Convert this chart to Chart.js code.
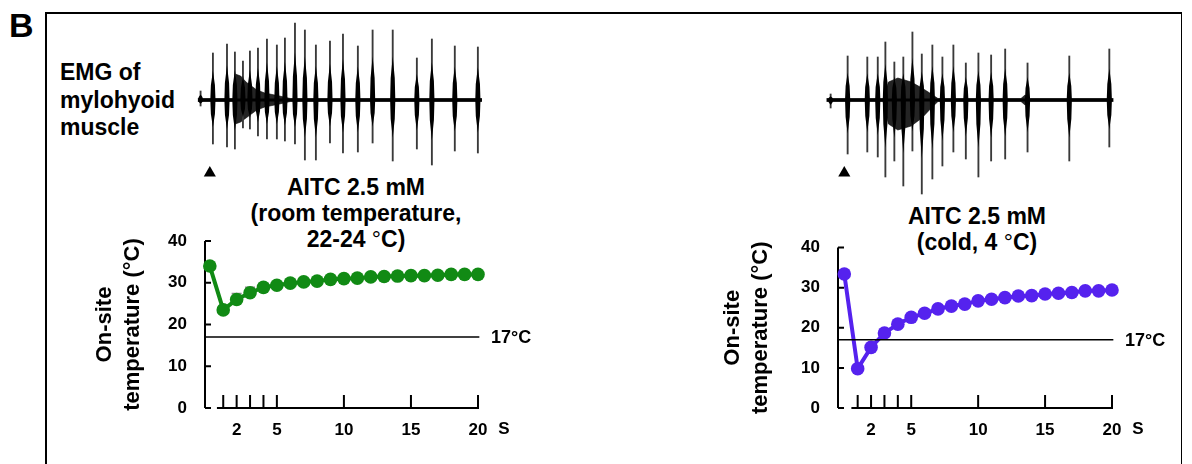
<!DOCTYPE html>
<html>
<head>
<meta charset="utf-8">
<script src="https://cdn.jsdelivr.net/npm/chart.js@4.4.1/dist/chart.umd.min.js"></script>
<style>
  body { margin: 0; width: 1192px; height: 464px; background: #fff; position: relative; overflow: hidden;
         font-family: "Liberation Sans", Arial, sans-serif; font-weight: bold; color: #000; }
  canvas, .txt { position: absolute; }
  .txt { white-space: nowrap; }
  .ttl { transform: translateX(-50%); text-align: center; font-size: 23px; line-height: 26px; }
  .deg { font-weight: normal; }
  #frame { position: absolute; left: 45px; top: 12px; width: 1134px; height: 520px;
           border: 2px solid #000; border-right-width: 1.5px; }
</style>
</head>
<body>
<div id="frame"></div>
<div class="txt" style="left:9px;top:8px;font-size:34px;line-height:34px">B</div>
<div class="txt" style="left:60px;top:59px;font-size:23px;line-height:27.5px">EMG of<br>mylohyoid<br>muscle</div>
<div class="txt ttl" style="left:356px;top:174px">AITC 2.5 mM<br>(room temperature,<br>22-24 <span class="deg">°</span>C)</div>
<div class="txt ttl" style="left:977px;top:203px">AITC 2.5 mM<br>(cold, 4 <span class="deg">°</span>C)</div>

<canvas id="emg-room" width="300" height="185" style="left:190px;top:15px"></canvas>
<canvas id="emg-cold" width="305" height="185" style="left:815px;top:15px"></canvas>
<canvas id="temp-room" width="480" height="220" style="left:85px;top:230px"></canvas>
<canvas id="temp-cold" width="462" height="220" style="left:713px;top:230px"></canvas>

<script>
const FONT = '"Liberation Sans", Arial, sans-serif';
Chart.defaults.font.family = FONT;
Chart.defaults.color = '#000';

// on-site temperature, sampled every second after AITC application
const timeSec = [0, 1, 2, 3, 4, 5, 6, 7, 8, 9, 10, 11, 12, 13, 14, 15, 16, 17, 18, 19, 20];
const roomTemp = [34.0, 23.5, 26.0, 27.6, 28.9, 29.4, 29.9, 30.2, 30.4, 30.8, 31.0,
                  31.1, 31.4, 31.5, 31.6, 31.7, 31.7, 31.8, 32.0, 32.0, 32.0];
const roomSem = [0.5, 0.8, 1.4, 1.3, 0.9, 0.7, 0.6, 0.5, 0.5, 0.5, 0.5,
                 0.4, 0.4, 0.4, 0.4, 0.4, 0.4, 0.4, 0.4, 0.4, 0.4];
const coldTemp = [33.4, 9.8, 15.1, 18.7, 20.9, 22.6, 23.6, 24.7, 25.4, 25.9, 26.7,
                  27.1, 27.5, 27.9, 28.0, 28.4, 28.6, 28.8, 29.2, 29.2, 29.4];
const thresholdC = 17;
const yTicks = [0, 10, 20, 30, 40];
const xTickMarks = [1, 2, 3, 4, 5, 10, 15, 20];
const xTickLabels = [2, 5, 10, 15, 20];

// EMG bursts: time (s), upward and downward peak (arbitrary units)
const roomBurstT = [-0.69, 0.23, 1.28, 1.87, 2.47, 2.99, 3.59, 4.26, 5.00, 5.60, 6.35, 7.09,
                    7.91, 8.96, 9.93, 11.04, 12.14, 13.64, 15.44, 16.56, 18.27, 19.99];
const roomBurstUp = [9, 47, 56, 48, 39, 49, 52, 61, 55, 62, 77, 70,
                     55, 59, 66, 54, 70, 70, 42, 61, 54, 53];
const roomBurstDown = [6, 44, 47, 49, 28, 29, 36, 39, 39, 41, 44, 60,
                       60, 43, 53, 52, 43, 61, 49, 65, 51, 53];
const roomTrace = [-0.89, 20.29];
// background activity envelope (upper / lower)
const roomEnvT = [-0.89, 1.80, 1.90, 2.30, 2.70, 3.10, 3.50, 4.10, 5.20, 6.00, 20.29];
const roomEnvUp = [1.5, 1.5, 26, 24, 18, 14, 10, 7, 4, 1.5, 1.5];
const roomEnvDown = [1.5, 1.5, 24, 22, 18, 14, 10, 7, 4, 1.5, 1.5];

const coldBurstT = [-1.02, 0.25, 1.72, 2.50, 3.07, 3.74, 4.41, 5.09, 5.79, 6.58, 7.33,
                    8.15, 9.08, 10.02, 10.97, 12.02, 13.69, 16.81, 19.80];
const coldBurstUp = [6, 44, 43, 43, 58, 38, 43, 68, 46, 55, 43,
                     55, 37, 47, 45, 51, 37, 44, 51];
const coldBurstDown = [8, 54, 52, 57, 77, 61, 86, 51, 94, 79, 66,
                       52, 59, 77, 61, 59, 52, 61, 47];
const coldTrace = [-1.32, 20.1];
const coldEnvT = [-1.32, 2.9, 3.3, 4.0, 5.0, 5.8, 6.5, 7.0, 13.2, 13.5, 13.9, 20.1];
const coldEnvUp = [1.5, 1.5, 18, 22, 18, 12, 6, 1.5, 1.5, 5, 1.5, 1.5];
const coldEnvDown = [1.5, 1.5, 24, 30, 26, 18, 8, 1.5, 1.5, 5, 1.5, 1.5];

const stimT = [0];

const GREEN = '#118a14';
const PURPLE = '#5522ee';

const tempAxes = {
  id: 'tempAxes',
  beforeDatasetsDraw(chart) {
    const { ctx, chartArea: a, scales: { x, y } } = chart;
    const by = y.getPixelForValue(0);
    ctx.save();
    ctx.strokeStyle = '#000';
    ctx.lineWidth = 2;
    ctx.beginPath();
    ctx.moveTo(a.left, by);
    ctx.lineTo(a.left, y.getPixelForValue(y.max));
    yTicks.forEach(v => {
      const py = y.getPixelForValue(v);
      ctx.moveTo(a.left, py);
      ctx.lineTo(a.left + 6, py);
    });
    // x axis starts a little before 1 s, detached from the y axis
    ctx.moveTo(x.getPixelForValue(0.53), by);
    ctx.lineTo(x.getPixelForValue(20) + 1, by);
    xTickMarks.forEach(v => {
      const px = x.getPixelForValue(v);
      ctx.moveTo(px, by);
      ctx.lineTo(px, by - 13);
    });
    ctx.stroke();

    const sem = chart.options.plugins.tempAxes.sem;
    if (sem) {
      const temps = chart.data.datasets[0].data;
      ctx.strokeStyle = '#8a8a8a';
      ctx.lineWidth = 1.5;
      ctx.beginPath();
      temps.forEach((p, i) => {
        const px = x.getPixelForValue(p.x);
        const top = y.getPixelForValue(p.y + sem[i]);
        const bot = y.getPixelForValue(p.y - sem[i]);
        ctx.moveTo(px, top); ctx.lineTo(px, bot);
        ctx.moveTo(px - 5, top); ctx.lineTo(px + 5, top);
      });
      ctx.stroke();
    }
    ctx.restore();
  },
  afterDraw(chart) {
    const { ctx, scales: { x, y } } = chart;
    ctx.save();
    ctx.fillStyle = '#000';
    ctx.font = 'bold 18px ' + FONT;
    ctx.textBaseline = 'middle';
    ctx.fillText('17°C', x.getPixelForValue(20) + 13, y.getPixelForValue(thresholdC) + 1);
    ctx.font = 'bold 17px ' + FONT;
    ctx.textAlign = 'center';
    ctx.fillText('S', x.getPixelForValue(20) + 26, y.getPixelForValue(0) + 21);
    ctx.restore();
  }
};

function noLabelPadding(s) {
  s.paddingTop = 0; s.paddingBottom = 0; s.paddingLeft = 0; s.paddingRight = 0;
}

function tempChart(id, temps, color, o) {
  return new Chart(document.getElementById(id), {
    type: 'line',
    data: {
      datasets: [{
        data: timeSec.map((t, i) => ({ x: t, y: temps[i] })),
        borderColor: color,
        backgroundColor: color,
        borderWidth: 4,
        pointRadius: 6.8,
        pointBorderWidth: 0,
        pointBackgroundColor: color,
        clip: false,
        order: 1
      }, {
        data: [{ x: o.xMin, y: thresholdC }, { x: 20.1, y: thresholdC }],
        borderColor: '#000',
        borderWidth: 1.6,
        pointRadius: 0,
        clip: false,
        order: 0
      }]
    },
    options: {
      responsive: false,
      animation: false,
      devicePixelRatio: 1,
      layout: { autoPadding: false, padding: { top: o.padTop, right: o.padRight, left: 0, bottom: 0 } },
      plugins: { legend: { display: false }, tooltip: { enabled: false }, tempAxes: { sem: o.sem } },
      scales: {
        x: {
          type: 'linear', min: o.xMin, max: 20,
          afterBuildTicks: s => { s.ticks = xTickLabels.map(v => ({ value: v })); },
          afterFit: s => { s.height = 42; noLabelPadding(s); },
          grid: { display: false, drawTicks: false },
          border: { display: false },
          ticks: { font: { size: 17, weight: 'bold' }, padding: 12, maxRotation: 0, autoSkip: false }
        },
        y: {
          min: 0, max: 40,
          afterBuildTicks: s => { s.ticks = yTicks.map(v => ({ value: v })); },
          afterFit: s => { s.width = o.yWidth; noLabelPadding(s); },
          grid: { display: false, drawTicks: false },
          border: { display: false },
          ticks: { font: { size: 17, weight: 'bold' }, padding: 18 },
          title: {
            display: true,
            text: ['On-site', 'temperature (°C)'],
            font: { size: 22, weight: 'bold', lineHeight: 1.27 },
            padding: { top: 6, bottom: 0 }
          }
        }
      }
    },
    plugins: [tempAxes]
  });
}

const roomChart = tempChart('temp-room', roomTemp, GREEN,
  { xMin: -0.36, padTop: 11, padRight: 87, yWidth: 120, sem: roomSem });
const coldChart = tempChart('temp-cold', coldTemp, PURPLE,
  { xMin: -0.47, padTop: 17.5, padRight: 63, yWidth: 125, sem: null });

// spindle-shaped dense core of each burst
const burstCore = {
  id: 'burstCore',
  afterDatasetsDraw(chart) {
    const { ctx, scales: { x, y } } = chart;
    const b = chart.options.plugins.burstCore;
    const y0 = y.getPixelForValue(0);
    ctx.save();
    ctx.fillStyle = '#000';
    b.t.forEach((t, i) => {
      const px = x.getPixelForValue(t);
      const top = y.getPixelForValue(b.up[i] * 0.62);
      const bot = y.getPixelForValue(-b.down[i] * 0.62);
      ctx.beginPath();
      ctx.moveTo(px, top);
      ctx.quadraticCurveTo(px + 2.8, (top + y0) / 2, px + 2.6, y0);
      ctx.quadraticCurveTo(px + 2.8, (bot + y0) / 2, px, bot);
      ctx.quadraticCurveTo(px - 2.8, (bot + y0) / 2, px - 2.6, y0);
      ctx.quadraticCurveTo(px - 2.8, (top + y0) / 2, px, top);
      ctx.fill();
    });
    ctx.restore();
  }
};

function emgChart(id, tempRef, canvasLeft, tempLeft, width, burstT, up, down, trace, envT, envUp, envDown) {
  const xs = tempRef.scales.x;
  const xMin = xs.getValueForPixel(canvasLeft - tempLeft);
  const xMax = xs.getValueForPixel(canvasLeft + width - tempLeft);
  return new Chart(document.getElementById(id), {
    type: 'bar',
    data: {
      datasets: [{
        type: 'bar',
        data: burstT.map((t, i) => ({ x: t, y: [-down[i], up[i]] })),
        backgroundColor: '#3a3a3a',
        barThickness: 1.2,
        order: 2
      }, {
        type: 'line',
        data: envT.map((t, i) => ({ x: t, y: envUp[i] })),
        borderColor: 'rgba(0,0,0,0.7)', borderWidth: 0.8, pointRadius: 0,
        backgroundColor: 'rgba(0,0,0,0.86)', fill: '+1', order: 3
      }, {
        type: 'line',
        data: envT.map((t, i) => ({ x: t, y: -envDown[i] })),
        borderColor: 'rgba(0,0,0,0.7)', borderWidth: 0.8, pointRadius: 0, order: 3
      }, {
        type: 'line',
        data: trace.map(t => ({ x: t, y: 0 })),
        borderColor: '#000', borderWidth: 2.8, pointRadius: 0, order: 1
      }, {
        type: 'line',
        data: stimT.map(t => ({ x: t, y: -73 })),
        showLine: false,
        pointStyle: 'triangle', pointRadius: 7, pointBorderWidth: 0,
        pointBackgroundColor: '#000', order: 0
      }]
    },
    options: {
      responsive: false,
      animation: false,
      devicePixelRatio: 1,
      layout: { autoPadding: false, padding: 0 },
      plugins: {
        legend: { display: false }, tooltip: { enabled: false },
        burstCore: { t: burstT, up: up, down: down }
      },
      scales: {
        x: { type: 'linear', min: xMin, max: xMax, offset: false, display: false },
        y: { min: -100, max: 85, display: false }
      }
    },
    plugins: [burstCore]
  });
}

emgChart('emg-room', roomChart, 190, 85, 300, roomBurstT, roomBurstUp, roomBurstDown,
         roomTrace, roomEnvT, roomEnvUp, roomEnvDown);
emgChart('emg-cold', coldChart, 815, 713, 305, coldBurstT, coldBurstUp, coldBurstDown,
         coldTrace, coldEnvT, coldEnvUp, coldEnvDown);
</script>
</body>
</html>
